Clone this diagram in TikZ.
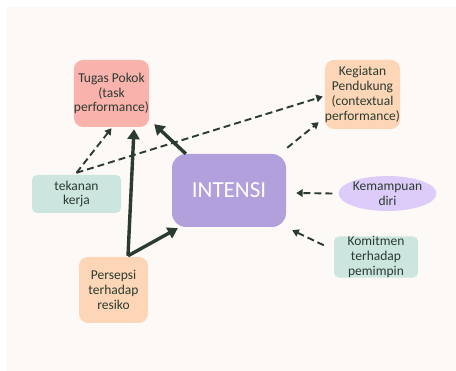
\documentclass[tikz,border=0pt]{standalone}
\usepackage{fontspec}
\setmainfont{Carlito}
\usetikzlibrary{arrows.meta,shapes.geometric}
\definecolor{ink}{HTML}{2A3B32}
\definecolor{cream}{HTML}{FDF9F6}
\definecolor{salmon}{HTML}{FAB2AC}
\definecolor{peach}{HTML}{FDD6B7}
\definecolor{mint}{HTML}{CCE5DF}
\definecolor{lavender}{HTML}{B2A0DC}
\definecolor{lilac}{HTML}{DDCCF9}

\begin{document}
\begin{tikzpicture}[x=1pt,y=-1pt,
  box/.style={rounded corners=9pt, text=ink, align=center, inner sep=0pt,
    font=\fontsize{13.5}{14.8}\selectfont},
  strong/.style={draw=ink, line width=3.4pt, -{Triangle[length=10pt,width=12pt]}},
  weak/.style={draw=ink, line width=1.9pt, dash pattern=on 7pt off 4pt,
    -{Triangle[length=6.5pt,width=7.5pt]}}]
\fill[white] (0,0) rectangle (456,371);
\fill[cream] (6,7) rectangle (456,371);

\node[box, fill=salmon, minimum width=71pt, minimum height=67pt] (tugas) at (111.5,93.5)
  {Tugas Pokok\\(task\\performance)};
\node[box, fill=peach, minimum width=71pt, minimum height=69pt] (kegiatan) at (362.5,94.5)
  {Kegiatan\\Pendukung\\(contextual\\performance)};
\node[box, fill=mint, rounded corners=5pt, minimum width=89pt, minimum height=38pt] (tekanan) at (76.5,194)
  {tekanan\\kerja};
\node[box, fill=lavender, rounded corners=14pt, minimum width=114pt, minimum height=73pt,
  text=white, font=\fontsize{23}{24}\selectfont] (intensi) at (229,190.5) {INTENSI};
\node[box, ellipse, fill=lilac, minimum width=97pt, minimum height=35pt] (kemampuan) at (387.5,193.5)
  {Kemampuan\\diri};
\node[box, fill=mint, rounded corners=5pt, minimum width=84pt, minimum height=38pt] (komitmen) at (376,257)
  {Komitmen\\terhadap\\pemimpin};
\node[box, fill=peach, minimum width=69pt, minimum height=66pt] (persepsi) at (113.5,290)
  {Persepsi\\terhadap\\resiko};

\coordinate (pp) at ([xshift=14.5pt,yshift=1pt]persepsi.north);
\coordinate (tt) at ([yshift=2pt]tekanan.north);

% solid arrows
\draw[strong] ([xshift=14pt]intensi.north west) -- ([xshift=5pt,yshift=3pt]tugas.south east);
\draw[strong] (pp) -- ([xshift=22.5pt,yshift=-2pt]tugas.south);
\draw[strong] (pp) -- ([xshift=6pt,yshift=-1pt]intensi.south west);

% dashed arrows
\draw[weak] (tt) -- ([yshift=-1pt]tugas.south);
\draw[weak] (tt) -- ([xshift=-2pt,yshift=-2pt]kegiatan.west);
\draw[weak] ([xshift=1pt,yshift=6pt]intensi.north east) -- ([xshift=-6pt,yshift=7pt]kegiatan.south west);
\draw[weak] ([xshift=-6pt]kemampuan.west) -- ([xshift=10pt,yshift=-2.5pt]intensi.east);
\draw[weak] ([xshift=-10pt,yshift=-9pt]komitmen.north west) -- ([xshift=6pt,yshift=-3pt]intensi.south east);
\end{tikzpicture}
\end{document}
